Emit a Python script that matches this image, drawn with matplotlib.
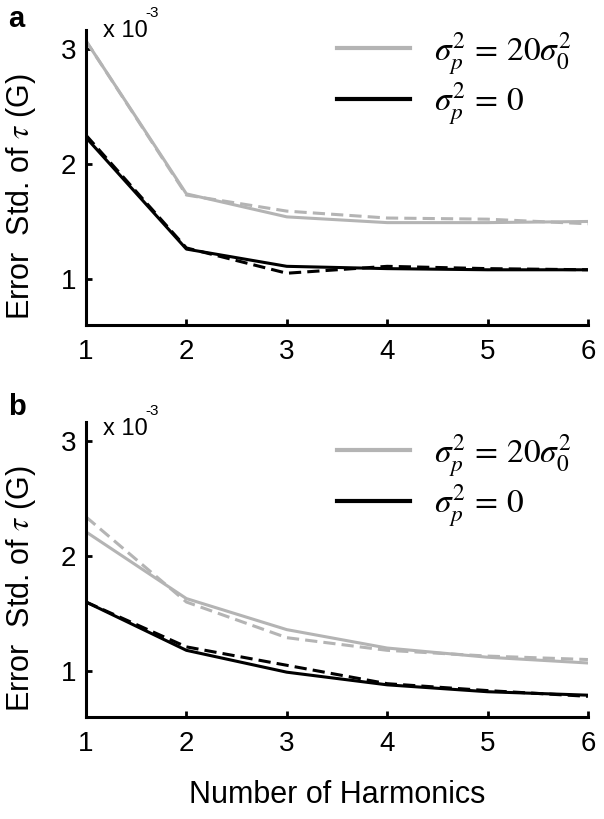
import matplotlib
matplotlib.use('Agg')
import matplotlib.pyplot as plt
from matplotlib.lines import Line2D

plt.rcParams['font.family'] = ['Liberation Sans', 'DejaVu Sans']
plt.rcParams['mathtext.fontset'] = 'stix'

harmonics = [1, 2, 3, 4, 5, 6]

# panel a (values in units of 1e-3 G)
a_gray_solid = [3.07, 1.74, 1.54, 1.49, 1.49, 1.50]
a_gray_dash = [3.07, 1.73, 1.59, 1.53, 1.52, 1.48]
a_black_solid = [2.23, 1.26, 1.11, 1.09, 1.08, 1.08]
a_black_dash = [2.25, 1.27, 1.05, 1.11, 1.09, 1.08]

# panel b
b_gray_solid = [2.21, 1.63, 1.36, 1.20, 1.12, 1.07]
b_gray_dash = [2.34, 1.60, 1.29, 1.18, 1.13, 1.10]
b_black_solid = [1.60, 1.18, 0.99, 0.88, 0.82, 0.79]
b_black_dash = [1.60, 1.21, 1.05, 0.89, 0.83, 0.78]

legend_labels = [r'$\sigma_p^2 \,=\, 20\sigma_0^2$', r'$\sigma_p^2 \,=\, 0$']

GRAY = '#b4b4b4'


def style_axes(ax, exp_y):
    ax.set_xlim(1, 6)
    ax.set_ylim(0.6, 3.165)
    ax.set_xticks(harmonics)
    ax.set_yticks([1, 2, 3])
    for s in ['top', 'right']:
        ax.spines[s].set_visible(False)
    for s in ['left', 'bottom']:
        ax.spines[s].set_linewidth(2.2)
    ax.tick_params(direction='in', length=4, width=2, labelsize=20)
    ax.tick_params(axis='x', pad=10)
    ax.tick_params(axis='y', pad=7)
    ax.set_ylabel(r'Error  Std. of $\tau$ (G)', fontsize=22)
    ax.yaxis.set_label_coords(-0.096, 0.434)
    ax.text(0.034, exp_y, 'x 10', transform=ax.transAxes, fontsize=17, va='baseline')
    ax.text(0.118, exp_y + 0.068, '-3', transform=ax.transAxes, fontsize=11, va='baseline')


def draw_panel(ax, gs, gd, bs, bd, leg_y, exp_y):
    ax.plot(harmonics, gd, color=GRAY, lw=2.2, ls=(0, (4, 2)))
    ax.plot(harmonics, gs, color=GRAY, lw=2.2)
    ax.plot(harmonics, bd, color='black', lw=2.2, ls=(0, (4, 2)))
    ax.plot(harmonics, bs, color='black', lw=2.2)
    handles = [Line2D([], [], color=GRAY, lw=3), Line2D([], [], color='black', lw=3)]
    ax.legend(handles, legend_labels, loc='upper left', bbox_to_anchor=(0.5, leg_y),
              frameon=False, fontsize=24, handlelength=2.2, handletextpad=0.7,
              borderpad=0, borderaxespad=0, labelspacing=0.12)
    style_axes(ax, exp_y)


fig = plt.figure(figsize=(6.04, 8.19), dpi=100)
ax_a = fig.add_axes([0.1424, 0.6032, 0.831, 0.3602])
ax_b = fig.add_axes([0.1424, 0.1245, 0.831, 0.3602])

draw_panel(ax_a, a_gray_solid, a_gray_dash, a_black_solid, a_black_dash, 1.0, 0.976)
draw_panel(ax_b, b_gray_solid, b_gray_dash, b_black_solid, b_black_dash, 0.966, 0.956)
ax_b.set_xlabel('Number of Harmonics', fontsize=22, va='top')
ax_b.xaxis.set_label_coords(0.5, -0.215)

fig.text(0.013, 0.967, 'a', fontsize=21, fontweight='bold', va='baseline')
fig.text(0.013, 0.4933, 'b', fontsize=21, fontweight='bold', va='baseline')

fig.savefig('out.png', dpi=100)
